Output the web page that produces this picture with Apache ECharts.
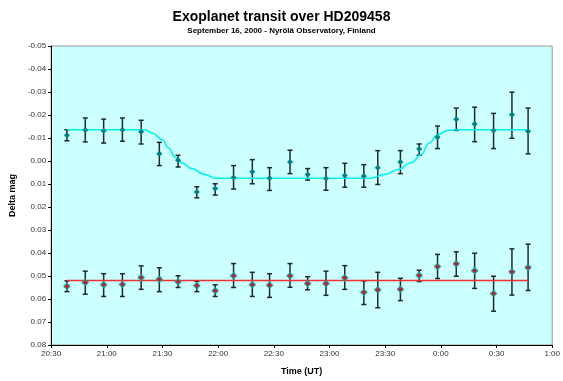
<!DOCTYPE html>
<html>
<head>
<meta charset="utf-8">
<script src="https://cdn.jsdelivr.net/npm/echarts@6/dist/echarts.min.js"></script>
<style>
  html, body { margin: 0; padding: 0; background: #fff; }
  #chart { width: 563px; height: 381px; }
</style>
</head>
<body>
<div id="chart"></div>
<script>
// times are minutes after 20:30 UT
const obsTimes = [8.5, 18.4, 28.3, 38.4, 48.5, 58.3, 68.4, 78.5, 88.4, 98.3, 108.4, 117.7, 128.7,
  138.2, 148.1, 158.2, 168.5, 176.0, 188.2, 198.3, 208.2, 218.3, 228.2, 238.4, 248.3, 257.0];

// HD209458 - comparison
const starMag = [-0.0112, -0.0135, -0.0132, -0.0136, -0.0127, -0.0031, -0.0003, 0.0135, 0.0120, 0.0072,
  0.0047, 0.0075, 0.0004, 0.0059, 0.0076, 0.0063, 0.0065, 0.0029, 0.0004, -0.0052, -0.0103, -0.0181,
  -0.0161, -0.0133, -0.0201, -0.0129];
const starTop = [-0.0136, -0.0187, -0.0182, -0.0187, -0.0177, -0.0081, -0.0025, 0.0112, 0.0099, 0.0020,
  -0.0006, 0.0029, -0.0047, 0.0033, 0.0029, 0.0010, 0.0016, -0.0045, -0.0045, -0.0074, -0.0152, -0.0230,
  -0.0234, -0.0207, -0.0299, -0.0230];
const starBottom = [-0.0088, -0.0083, -0.0078, -0.0086, -0.0074, 0.0020, 0.0026, 0.0160, 0.0148, 0.0122,
  0.0099, 0.0128, 0.0055, 0.0083, 0.0127, 0.0114, 0.0114, 0.0102, 0.0055, -0.0025, -0.0054, -0.0133,
  -0.0084, -0.0054, -0.0099, -0.0031];

// check star - comparison
const checkMag = [0.0545, 0.0528, 0.0538, 0.0537, 0.0507, 0.0514, 0.0525, 0.0542, 0.0564, 0.0499,
  0.0538, 0.0540, 0.0499, 0.0533, 0.0533, 0.0508, 0.0571, 0.0560, 0.0558, 0.0497, 0.0459, 0.0447,
  0.0477, 0.0576, 0.0482, 0.0463];
const checkTop = [0.0521, 0.0479, 0.0490, 0.0490, 0.0456, 0.0464, 0.0499, 0.0523, 0.0538, 0.0446,
  0.0484, 0.0490, 0.0446, 0.0503, 0.0479, 0.0455, 0.0521, 0.0484, 0.0510, 0.0475, 0.0406, 0.0395,
  0.0401, 0.0501, 0.0382, 0.0362];
const checkBottom = [0.0568, 0.0579, 0.0589, 0.0589, 0.0558, 0.0568, 0.0550, 0.0568, 0.0589, 0.0550,
  0.0589, 0.0593, 0.0549, 0.0560, 0.0584, 0.0558, 0.0624, 0.0638, 0.0607, 0.0524, 0.0511, 0.0501,
  0.0554, 0.0653, 0.0583, 0.0563];

// transit model curve
const modelTimes = [8.5, 50.9, 54.5, 59.8, 63.3, 66.8, 70.4, 75.7, 82.7, 88.9, 172, 180, 187, 194,
  199.4, 203.8, 208.2, 213.5, 218.8, 257.0];
const modelMag = [-0.0136, -0.0136, -0.0122, -0.0093, -0.0057, -0.0016, 0.0008, 0.0033, 0.0059, 0.0075,
  0.0075, 0.0058, 0.0037, 0.0008, -0.0028, -0.0078, -0.0114, -0.0133, -0.0136, -0.0136];

// flat level of the check star
const checkLevelTimes = [8.5, 257.0];
const checkLevel = [0.052, 0.052];

function pairs(xs, ys) { return xs.map((x, i) => [x, ys[i]]); }
function bars(xs, top, bottom) { return xs.map((x, i) => [x, top[i], bottom[i]]); }

function errorBar(params, api) {
  const p1 = api.coord([api.value(0), api.value(1)]);
  const p2 = api.coord([api.value(0), api.value(2)]);
  const w = 2.5;
  const style = { stroke: '#1e2a2a', lineWidth: 1.5 };
  return {
    type: 'group',
    children: [
      { type: 'line', shape: { x1: p1[0], y1: p1[1], x2: p2[0], y2: p2[1] }, style: style },
      { type: 'line', shape: { x1: p1[0] - w, y1: p1[1], x2: p1[0] + w, y2: p1[1] }, style: style },
      { type: 'line', shape: { x1: p2[0] - w, y1: p2[1], x2: p2[0] + w, y2: p2[1] }, style: style }
    ]
  };
}

function clock(v) {
  const m = Math.round(20 * 60 + 30 + v) % (24 * 60);
  const h = Math.floor(m / 60), mm = m % 60;
  return h + ':' + (mm < 10 ? '0' : '') + mm;
}

const chart = echarts.init(document.getElementById('chart'));
chart.setOption({
  animation: false,
  textStyle: { fontFamily: 'Liberation Sans, Arial, sans-serif' },
  title: {
    text: 'Exoplanet transit over HD209458',
    subtext: 'September 16, 2000 - Nyrölä Observatory, Finland',
    left: 'center',
    top: 5,
    itemGap: 3,
    textStyle: { fontSize: 14, fontWeight: 'bold', color: '#000' },
    subtextStyle: { fontSize: 8, fontWeight: 'bold', color: '#000' }
  },
  grid: {
    left: 47, right: 7, top: 46, bottom: 33,
    show: true, backgroundColor: '#ccffff', borderColor: '#999', borderWidth: 1
  },
  xAxis: {
    type: 'value', min: 0, max: 270, interval: 30,
    name: 'Time (UT)', nameLocation: 'middle', nameGap: 22,
    nameTextStyle: { fontSize: 9, fontWeight: 'bold', color: '#000' },
    axisLine: { onZero: false, lineStyle: { color: '#000', width: 1 } },
    axisTick: { show: true, length: 3, lineStyle: { color: '#000' } },
    axisLabel: { fontSize: 8, color: '#333', margin: 5, formatter: clock },
    splitLine: { show: false }
  },
  yAxis: {
    type: 'value', inverse: true, min: -0.05, max: 0.08, interval: 0.01,
    name: 'Delta mag', nameLocation: 'middle', nameGap: 33,
    nameTextStyle: { fontSize: 9, fontWeight: 'bold', color: '#000' },
    axisLine: { show: true, onZero: false, lineStyle: { color: '#000', width: 1 } },
    axisTick: { show: true, length: 3, lineStyle: { color: '#000' } },
    axisLabel: {
      fontSize: 8, color: '#333', margin: 5,
      formatter: v => (Math.abs(v) < 1e-9 ? 0 : v).toFixed(2)
    },
    splitLine: { show: false }
  },
  series: [
    { type: 'custom', renderItem: errorBar, data: bars(obsTimes, starTop, starBottom), z: 2 },
    { type: 'custom', renderItem: errorBar, data: bars(obsTimes, checkTop, checkBottom), z: 2 },
    {
      type: 'line', data: pairs(modelTimes, modelMag), smooth: 0.4, smoothMonotone: 'x',
      showSymbol: false, lineStyle: { color: '#00f0f0', width: 1.5 }, z: 3
    },
    {
      type: 'line', data: pairs(checkLevelTimes, checkLevel),
      showSymbol: false, lineStyle: { color: '#ee3030', width: 1.5 }, z: 3
    },
    {
      type: 'scatter', data: pairs(obsTimes, starMag), symbol: 'diamond', symbolSize: 6,
      itemStyle: { color: '#008080', opacity: 1 }, z: 4
    },
    {
      type: 'scatter', data: pairs(obsTimes, checkMag), symbol: 'diamond', symbolSize: 6,
      itemStyle: { color: '#e01010', borderColor: '#1a9a9a', borderWidth: 1.2, opacity: 1 }, z: 4
    }
  ]
});
</script>
</body>
</html>
